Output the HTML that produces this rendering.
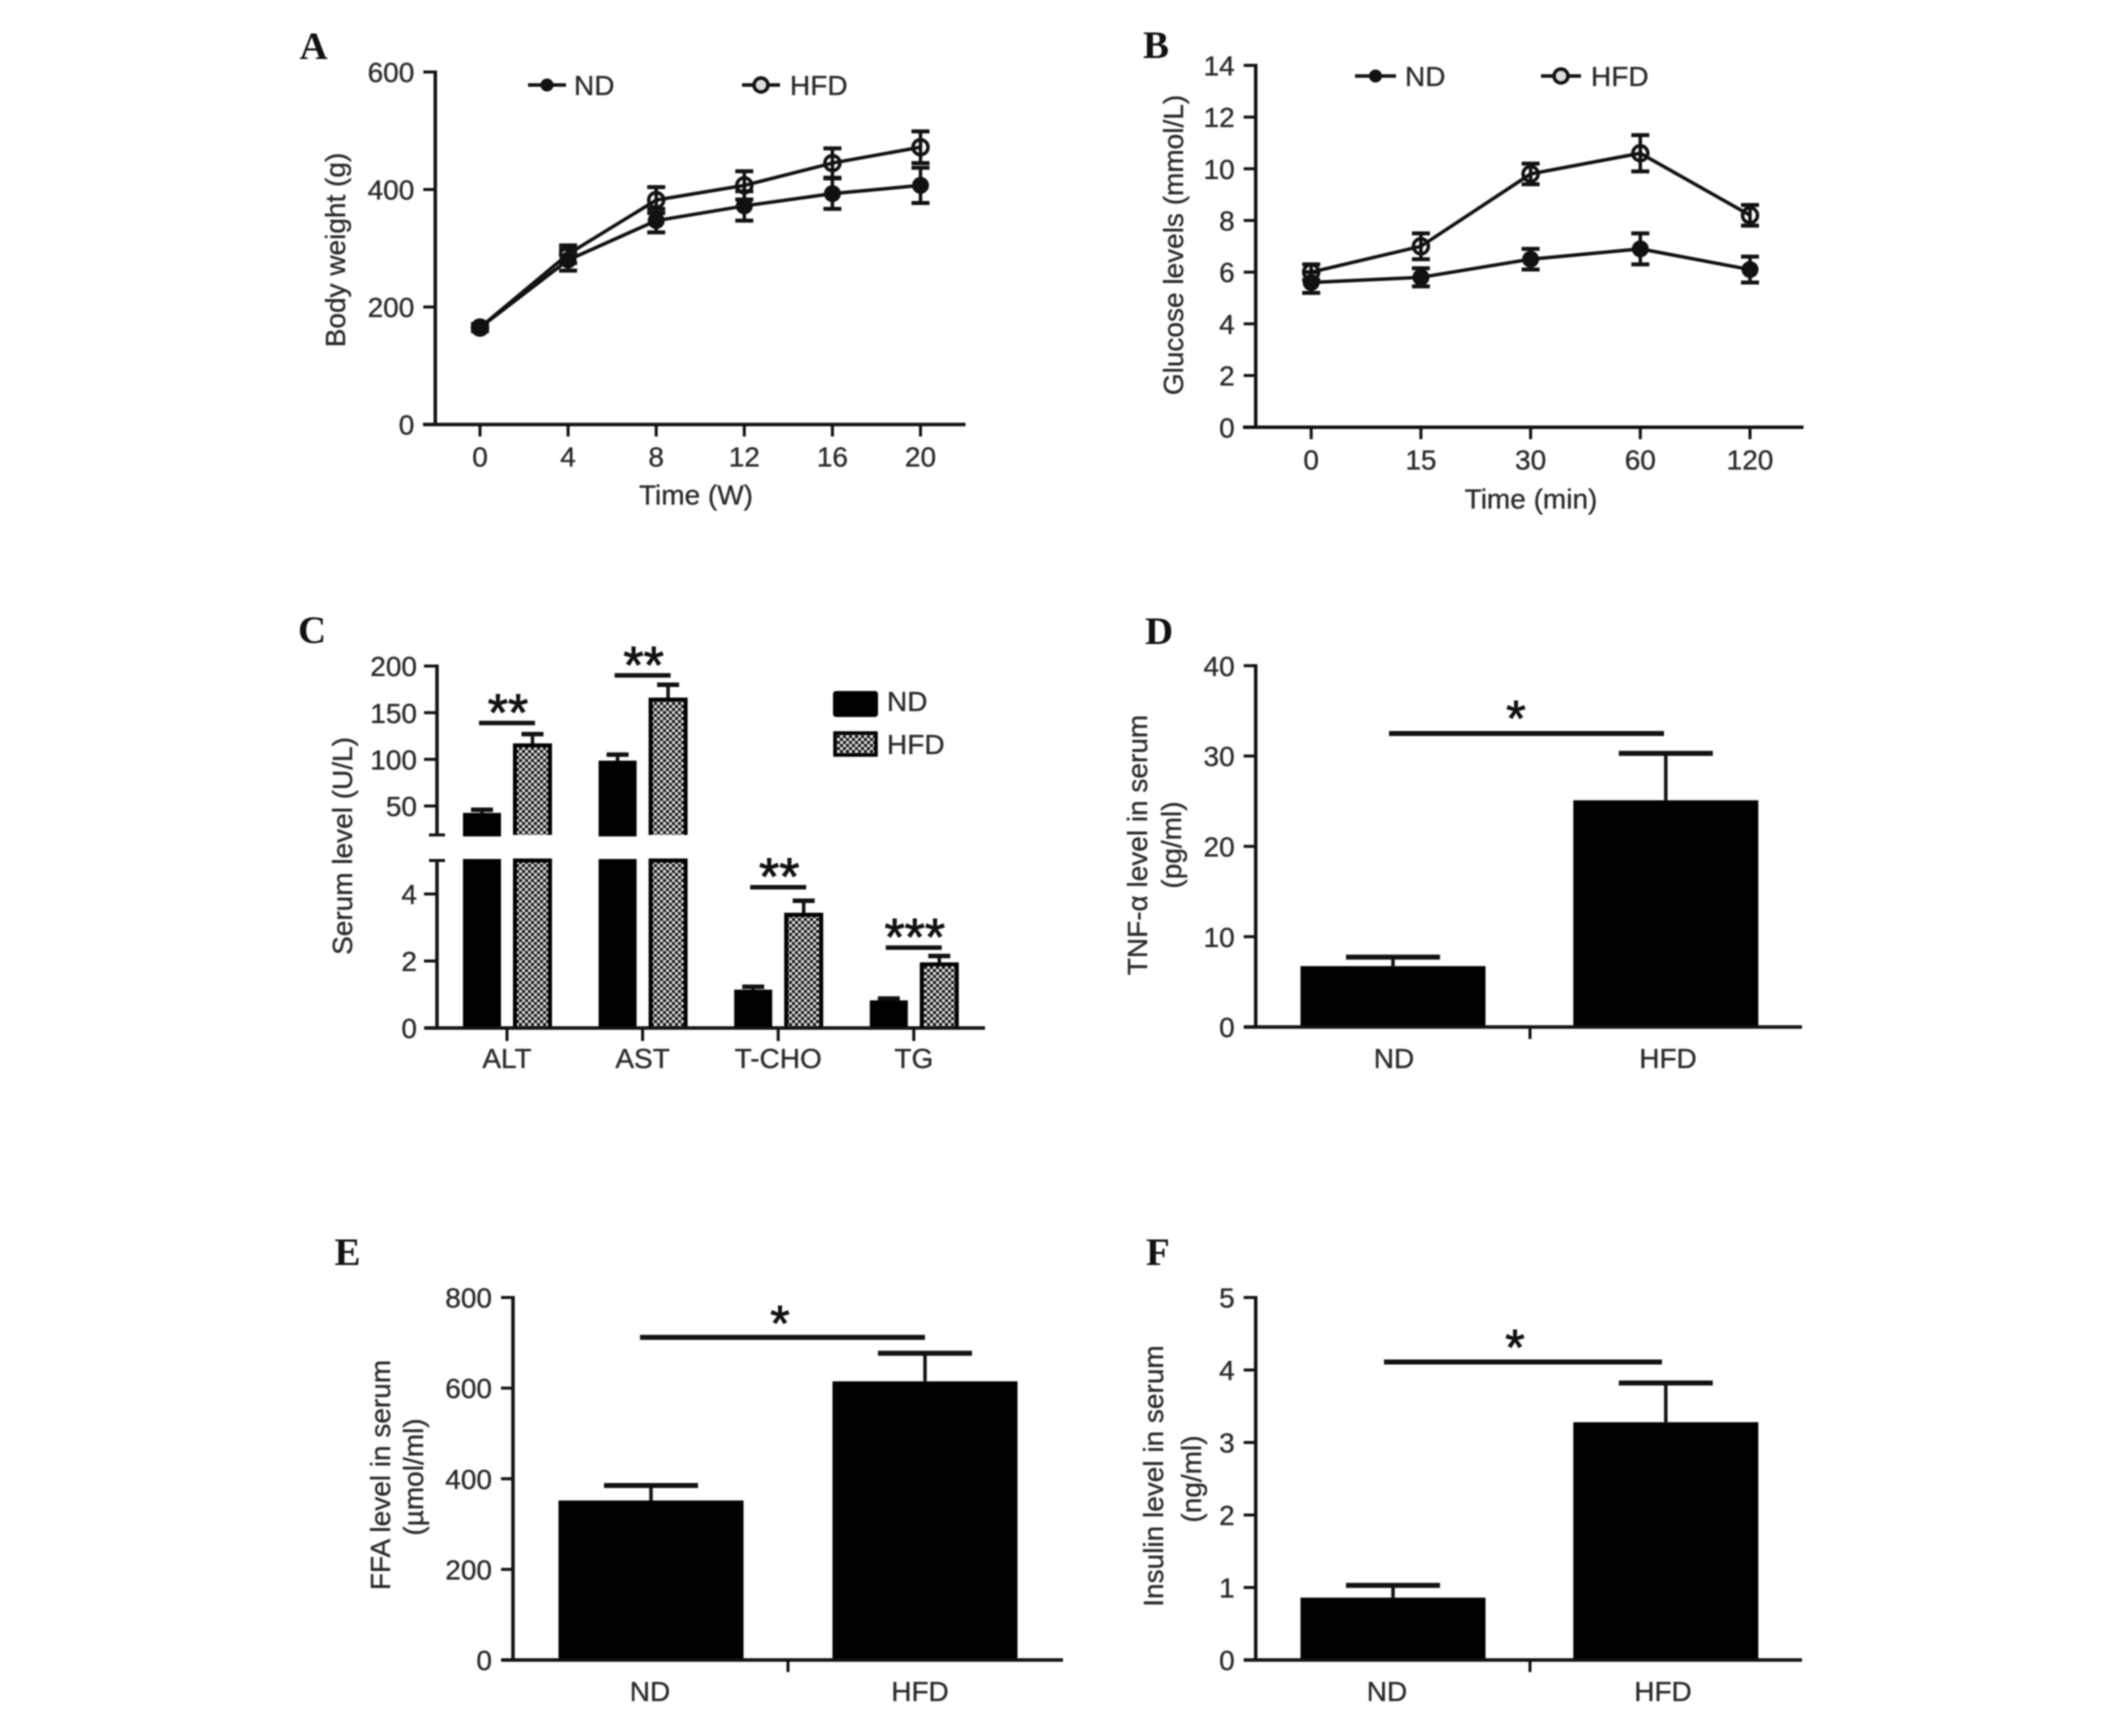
<!DOCTYPE html>
<html lang="en">
<head>
<meta charset="utf-8">
<title>Body weight, glucose and serum markers in ND and HFD groups</title>
<style>
html,body{margin:0;padding:0;background:#fff;}
body{width:2126px;height:1710px;overflow:hidden;}
svg{display:block;filter:blur(0.9px);}
text{font-family:"Liberation Sans",sans-serif;fill:#2a2a2a;stroke:#2a2a2a;stroke-width:0.35px;}
.letter{font-family:"Liberation Serif",serif;font-weight:bold;font-size:39px;fill:#111;stroke:none;}
.star{fill:#111;stroke:#111;stroke-width:0.9px;}
</style>
</head>
<body>
<svg id="figure" xmlns="http://www.w3.org/2000/svg" width="2126" height="1710" viewBox="0 0 2126 1710">
<defs>
<pattern id="hfd-hatch" patternUnits="userSpaceOnUse" width="6" height="6">
<rect width="6" height="6" fill="#e2e2e2"></rect>
<rect width="3" height="3" fill="#111"></rect>
<rect x="3" y="3" width="3" height="3" fill="#111"></rect>
</pattern>
</defs>
</svg>
<script>
/* Panel A */
const aWeeks = ['0', '4', '8', '12', '16', '20'];
const aTicks = [0, 200, 400, 600];
const aNdMeans = [165, 280, 347, 372, 393, 407];
const aNdErrors = [6, 18, 20, 25, 26, 30];
const aHfdMeans = [165, 290, 382, 407, 445, 472];
const aHfdErrors = [6, 15, 22, 24, 25, 27];
/* Panel B */
const bMinutes = ['0', '15', '30', '60', '120'];
const bTicks = [0, 2, 4, 6, 8, 10, 12, 14];
const bNdMeans = [5.6, 5.8, 6.5, 6.9, 6.1];
const bNdErrors = [0.4, 0.35, 0.4, 0.6, 0.5];
const bHfdMeans = [6.0, 7.0, 9.8, 10.6, 8.2];
const bHfdErrors = [0.3, 0.5, 0.4, 0.7, 0.4];
/* Panel C */
const cCategories = ['ALT', 'AST', 'T-CHO', 'TG'];
const cUpperTicks = [50, 100, 150, 200];
const cLowerTicks = [0, 2, 4];
const cNdMeans = [41, 97, 1.1, 0.78];
const cNdErrors = [5, 8, 0.13, 0.1];
const cHfdMeans = [115, 164, 3.38, 1.9];
const cHfdErrors = [12, 16, 0.42, 0.25];
const cStars = ['**', '**', '**', '***'];
const cSigLevels = [139, 190, 4.2, 2.4];
/* Panel D */
const dCategories = ['ND', 'HFD'];
const dTicks = [0, 10, 20, 30, 40];
const dMeans = [6.74, 25.1];
const dErrors = [1.0, 5.2];
const dSigLevel = 32.5;
/* Panel E */
const eCategories = ['ND', 'HFD'];
const eTicks = [0, 200, 400, 600, 800];
const eMeans = [352, 615];
const eErrors = [33, 62];
const eSigLevel = 712;
/* Panel F */
const fCategories = ['ND', 'HFD'];
const fTicks = [0, 1, 2, 3, 4, 5];
const fMeans = [0.86, 3.28];
const fErrors = [0.17, 0.54];
const fSigLevel = 4.11;

const NS = 'http://www.w3.org/2000/svg';
const figure = document.getElementById('figure');
const INK = '#111';

function mk(parent, tag, attrs) {
  const el = document.createElementNS(NS, tag);
  for (const k in attrs) el.setAttribute(k, attrs[k]);
  parent.appendChild(el);
  return el;
}
function seg(parent, x1, y1, x2, y2, w, name) {
  const el = mk(parent, 'line', {x1: x1, y1: y1, x2: x2, y2: y2, stroke: INK, 'stroke-width': w});
  
  
  return el;
}
function label(parent, str, x, cy, size, anchor, name) {
  const el = mk(parent, 'text', {x: x, y: cy + size * 0.36, 'font-size': size, 'text-anchor': anchor});
  el.textContent = str;
  
  
  return el;
}
function vTitle(parent, str, cx, cy, name) {
  const el = mk(parent, 'text', {x: 0, y: 0, 'font-size': 28, 'text-anchor': 'middle',
    transform: 'translate(' + (cx + 10) + ',' + cy + ') rotate(-90)'});
  el.textContent = str;
  
  
  return el;
}
function panel(id, letter, lx, ly) {
  const g = mk(figure, 'g', {});
  
  
  const t = mk(g, 'text', {x: lx, y: ly + 13, 'class': 'letter'});
  t.textContent = letter;
  
  
  return g;
}
function star(parent, str, x, cy, size, name) {
  const el = mk(parent, 'text', {x: x, y: cy + size * 0.45, 'font-size': size, 'text-anchor': 'middle', 'class': 'star'});
  el.textContent = str;
  
  
  return el;
}
function yAxis(g, ticks, yOf, x0, yTop, yBot) {
  seg(g, x0, yTop - 1.5, x0, yBot, 3.5, 'y-axis-line');
  ticks.forEach(function (t) {
    seg(g, x0 - 12, yOf(t), x0, yOf(t), 3, 'y-tick-' + t);
    label(g, String(t), x0 - 21, yOf(t), 28, 'end', 'y-tick-label-' + t);
  });
}
function lineSeries(g, name, means, errors, xOf, yOf, open, capHalf) {
  const s = mk(g, 'g', {});
  
  
  const pts = means.map(function (m, i) { return xOf(i) + ',' + yOf(m); }).join(' ');
  const pl = mk(s, 'polyline', {points: pts, fill: 'none', stroke: INK, 'stroke-width': 3.5});
  
  
  means.forEach(function (m, i) {
    const x = xOf(i);
    seg(s, x, yOf(m - errors[i]), x, yOf(m + errors[i]), 3.5, name + '-error-stem-' + i);
    seg(s, x - capHalf, yOf(m + errors[i]), x + capHalf, yOf(m + errors[i]), 4, name + '-error-cap-high-' + i);
    seg(s, x - capHalf, yOf(m - errors[i]), x + capHalf, yOf(m - errors[i]), 4, name + '-error-cap-low-' + i);
    const c = mk(s, 'circle', {cx: x, cy: yOf(m), r: open ? 7.5 : 8.5,
      fill: open ? 'none' : INK, stroke: INK, 'stroke-width': open ? 3.5 : 0});
    
    
  });
}
function lineLegend(g, name, x1, x2, y, open, textX) {
  seg(g, x1, y, x2, y, 3.5, 'legend-line-' + name);
  const c = mk(g, 'circle', {cx: (x1 + x2) / 2, cy: y, r: open ? 7 : 6.5,
    fill: open ? '#ddd' : INK, stroke: INK, 'stroke-width': open ? 3.5 : 0});
  
  
  label(g, name, textX, y, 28, 'start', 'legend-label-' + name);
}
function twoBarPanel(g, cats, means, errors, yOf, xOf, barW, capW, sigY, sigX1, sigX2, starX, starY) {
  means.forEach(function (m, i) {
    const x = xOf(i);
    seg(g, x, yOf(m + errors[i]), x, yOf(m), 3.5, 'error-stem-' + cats[i]);
    seg(g, x - capW / 2, yOf(m + errors[i]), x + capW / 2, yOf(m + errors[i]), 5, 'error-cap-' + cats[i]);
    const b = mk(g, 'rect', {x: x - barW / 2, y: yOf(m), width: barW, height: yOf(0) - yOf(m), fill: '#000'});
    
    
  });
  seg(g, sigX1, sigY, sigX2, sigY, 5, 'significance-bar');
  star(g, '*', starX, starY, 50, 'significance-star');
}

/* ---------- Panel A ---------- */
(function () {
  const g = panel('a', 'A', 299.5, 46);
  const y0 = 424.5, k = 352.5 / 600;
  const yOf = function (v) { return y0 - v * k; };
  const xOf = function (i) { return 480 + i * 88.1; };
  yAxis(g, aTicks, yOf, 435.3, yOf(600), y0);
  seg(g, 423, y0, 965.5, y0, 3.5, 'x-axis-line');
  aWeeks.forEach(function (w, i) {
    seg(g, xOf(i), y0, xOf(i), y0 + 12, 3, 'x-tick-' + w);
    label(g, w, xOf(i), 456.3, 28, 'middle', 'x-tick-label-' + w);
  });
  label(g, 'Time (W)', 696, 494.5, 28, 'middle', 'x-axis-title');
  vTitle(g, 'Body weight (g)', 335, 250, 'y-axis-title');
  lineSeries(g, 'HFD', aHfdMeans, aHfdErrors, xOf, yOf, true, 9);
  lineSeries(g, 'ND', aNdMeans, aNdErrors, xOf, yOf, false, 9);
  lineLegend(g, 'ND', 528, 566, 85, false, 574);
  lineLegend(g, 'HFD', 742, 780, 85, true, 790);
})();

/* ---------- Panel B ---------- */
(function () {
  const g = panel('b', 'B', 1143, 45);
  const y0 = 427.2, k = 361.8 / 14;
  const yOf = function (v) { return y0 - v * k; };
  const xOf = function (i) { return 1311.2 + i * 109.7; };
  yAxis(g, bTicks, yOf, 1255.7, yOf(14), y0);
  seg(g, 1243, y0, 1803.5, y0, 3.5, 'x-axis-line');
  bMinutes.forEach(function (m, i) {
    seg(g, xOf(i), y0, xOf(i), y0 + 12, 3, 'x-tick-' + m);
    label(g, m, xOf(i), 459.5, 28, 'middle', 'x-tick-label-' + m);
  });
  label(g, 'Time (min)', 1531, 498.5, 28, 'middle', 'x-axis-title');
  vTitle(g, 'Glucose levels (mmol/L)', 1173, 245, 'y-axis-title');
  lineSeries(g, 'HFD', bHfdMeans, bHfdErrors, xOf, yOf, true, 9);
  lineSeries(g, 'ND', bNdMeans, bNdErrors, xOf, yOf, false, 9);
  lineLegend(g, 'ND', 1355, 1396, 76, false, 1405);
  lineLegend(g, 'HFD', 1541, 1581, 76, true, 1591);
})();

/* ---------- Panel C ---------- */
(function () {
  const g = panel('c', 'C', 298, 630);
  const y0 = 1028, kLow = 33.5, breakLow = 5, breakHigh = 19;
  const yLow = function (v) { return y0 - v * kLow; };
  const yHigh = function (v) { return 806 - (v - 50) * 0.933; };
  const yOf = function (v) { return v <= breakLow ? yLow(v) : yHigh(v); };
  const xOf = function (i) { return 507 + i * 135.6; };
  const x0 = 437;
  seg(g, x0, yHigh(200) - 1.5, x0, yHigh(breakHigh), 3.5, 'y-axis-upper-line');
  seg(g, x0, yLow(breakLow), x0, y0, 3.5, 'y-axis-lower-line');
  seg(g, x0 - 8, yHigh(breakHigh), x0 + 8, yHigh(breakHigh), 3, 'y-axis-break-cap-upper');
  seg(g, x0 - 8, yLow(breakLow), x0 + 8, yLow(breakLow), 3, 'y-axis-break-cap-lower');
  cUpperTicks.forEach(function (t) {
    seg(g, x0 - 13, yHigh(t), x0, yHigh(t), 3, 'y-tick-' + t);
    label(g, String(t), x0 - 20, yHigh(t), 28, 'end', 'y-tick-label-' + t);
  });
  cLowerTicks.forEach(function (t) {
    seg(g, x0 - 13, yLow(t), x0, yLow(t), 3, 'y-tick-' + t);
    label(g, String(t), x0 - 20, yLow(t), 28, 'end', 'y-tick-label-' + t);
  });
  function barPart(name, cx, top, bottom, hfd) {
    const b = mk(g, 'rect', {x: cx - 17.5, y: top, width: 35, height: bottom - top,
      fill: hfd ? 'url(#hfd-hatch)' : '#000', stroke: hfd ? 'none' : '#000', 'stroke-width': 3});
    
    
    if (hfd) {
      const edge = mk(g, 'polyline', {points: (cx - 17.5) + ',' + bottom + ' ' + (cx - 17.5) + ',' + top + ' ' + (cx + 17.5) + ',' + top + ' ' + (cx + 17.5) + ',' + bottom,
        fill: 'none', stroke: '#000', 'stroke-width': 4});
      
      
    }
  }
  function drawBar(name, cx, mean, err, hfd) {
    const hi = mean + err;
    seg(g, cx, yOf(hi), cx, yOf(mean), 3.5, name + '-error-stem');
    seg(g, cx - 11, yOf(hi), cx + 11, yOf(hi), 4.5, name + '-error-cap');
    if (mean > breakLow) {
      barPart(name + '-upper', cx, yHigh(mean), yHigh(breakHigh), hfd);
      barPart(name + '-lower', cx, yLow(breakLow), y0, hfd);
    } else {
      barPart(name, cx, yLow(mean), y0, hfd);
    }
  }
  cCategories.forEach(function (c, i) {
    drawBar('bar-nd-' + c, xOf(i) - 25, cNdMeans[i], cNdErrors[i], false);
    drawBar('bar-hfd-' + c, xOf(i) + 25.5, cHfdMeans[i], cHfdErrors[i], true);
    seg(g, xOf(i), y0, xOf(i), y0 + 13, 3, 'x-tick-' + c);
    label(g, c, xOf(i), 1058, 28, 'middle', 'x-tick-label-' + c);
    const sy = yOf(cSigLevels[i]);
    seg(g, xOf(i) - 28, sy, xOf(i) + 28, sy, 4.5, 'significance-bar-' + c);
    star(g, cStars[i], xOf(i) + 1, sy - 16, 52, 'significance-stars-' + c);
  });
  seg(g, 425, y0, 985, y0, 3.5, 'x-axis-line');
  vTitle(g, 'Serum level (U/L)', 342, 846, 'y-axis-title');
  const k1 = mk(g, 'rect', {x: 834, y: 692, width: 43, height: 24, rx: 2, fill: '#000', stroke: '#000', 'stroke-width': 2});
  
  
  label(g, 'ND', 887, 701, 28, 'start', 'legend-label-ND');
  const k2 = mk(g, 'rect', {x: 835, y: 733, width: 41, height: 22, fill: 'url(#hfd-hatch)', stroke: '#000', 'stroke-width': 3.5});
  
  
  label(g, 'HFD', 887, 744, 28, 'start', 'legend-label-HFD');
})();

/* ---------- Panel D ---------- */
(function () {
  const g = panel('d', 'D', 1145, 631);
  const y0 = 1027, k = 361.3 / 40;
  const yOf = function (v) { return y0 - v * k; };
  const xOf = function (i) { return 1393 + i * 272.8; };
  yAxis(g, dTicks, yOf, 1255.7, yOf(40), y0);
  twoBarPanel(g, dCategories, dMeans, dErrors, yOf, xOf, 185, 94, yOf(dSigLevel), 1389, 1664, 1516, 713);
  seg(g, 1244, y0, 1802, y0, 3.5, 'x-axis-line');
  seg(g, 1530, y0, 1530, y0 + 12, 3, 'x-tick-separator');
  label(g, dCategories[0], 1394, 1058, 28, 'middle', 'x-tick-label-ND');
  label(g, dCategories[1], 1668, 1058, 28, 'middle', 'x-tick-label-HFD');
  vTitle(g, 'TNF-\u03B1 level in serum', 1137, 845, 'y-axis-title-line-1');
  vTitle(g, '(pg/ml)', 1171, 845, 'y-axis-title-line-2');
})();

/* ---------- Panel E ---------- */
(function () {
  const g = panel('e', 'E', 334.5, 1252);
  const y0 = 1660, k = 362.5 / 800;
  const yOf = function (v) { return y0 - v * k; };
  const xOf = function (i) { return 651 + i * 274; };
  yAxis(g, eTicks, yOf, 513, yOf(800), y0);
  twoBarPanel(g, eCategories, eMeans, eErrors, yOf, xOf, 185, 94, yOf(eSigLevel), 640, 925, 780, 1318);
  seg(g, 502, y0, 1063, y0, 3.5, 'x-axis-line');
  seg(g, 788, y0, 788, y0 + 12, 3, 'x-tick-separator');
  label(g, eCategories[0], 650, 1691, 28, 'middle', 'x-tick-label-ND');
  label(g, eCategories[1], 920, 1691, 28, 'middle', 'x-tick-label-HFD');
  vTitle(g, 'FFA level in serum', 380, 1475, 'y-axis-title-line-1');
  vTitle(g, '(\u00B5mol/ml)', 413, 1477, 'y-axis-title-line-2');
})();

/* ---------- Panel F ---------- */
(function () {
  const g = panel('f', 'F', 1146, 1252);
  const y0 = 1660, k = 362.5 / 5;
  const yOf = function (v) { return y0 - v * k; };
  const xOf = function (i) { return 1393 + i * 272.8; };
  yAxis(g, fTicks, yOf, 1255.7, yOf(5), y0);
  twoBarPanel(g, fCategories, fMeans, fErrors, yOf, xOf, 185, 94, yOf(fSigLevel), 1384, 1662, 1515, 1342);
  seg(g, 1244, y0, 1802, y0, 3.5, 'x-axis-line');
  seg(g, 1530, y0, 1530, y0 + 12, 3, 'x-tick-separator');
  label(g, fCategories[0], 1387, 1691, 28, 'middle', 'x-tick-label-ND');
  label(g, fCategories[1], 1663, 1691, 28, 'middle', 'x-tick-label-HFD');
  vTitle(g, 'Insulin level in serum', 1153, 1476, 'y-axis-title-line-1');
  vTitle(g, '(ng/ml)', 1191, 1479, 'y-axis-title-line-2');
})();
</script>
</body>
</html>
